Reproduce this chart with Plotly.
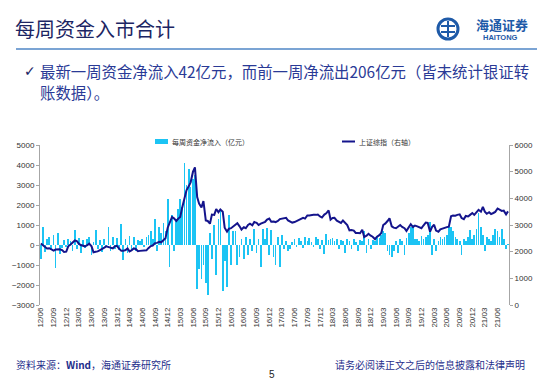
import pandas as pd
import plotly.graph_objects as go

# ---------------- data (semi-monthly readings) ----------------
flow_2012 = [-700, 900, -350, 300, 400, -250, 500, -1150, 600, -450, -150, 250, -100, 300]
flow_2013 = [200, -300, 750, -200, 350, -400, 250, -150, 300, 400, -500, 150,
             750, -200, 250, -350, 300, -100, 900, -300, 400, -200, 350, -250]
flow_2014 = [1050, -750, 300, -400, 450, -200, 400, -300, 250, 200, 300, -100,
             400, 500, 700, 300, 1300, -300, 900, 600, 1100, 700, 2300, -1100]
flow_2015 = [1500, -300, 1300, 1800, 2300, 1900, 4100, 3000, 3800, 2900, 3300, 3500,
             -2200, -1200, -1700, -1000, -1900, -2500, 600, -700, 1000, -1500, 1300, 1800]
flow_2016 = [-2300, -800, -2100, 1500, -1000, 700, 700, -1000, -600, 300, -700, 400,
             -500, 300, -300, 800, -400, 300, -1100, 800, 300, 850, -500, 750]
flow_2017 = [-600, -1000, 400, -1100, 500, -200, 200, -300, -200, 150, 300, -100,
             350, 200, -150, 400, 200, 350, 150, -100, 400, 300, -200, 250]
flow_2018 = [-450, 550, 250, 300, 350, 200, 300, -200, 250, 200, -400, 300,
             200, -200, 300, 150, -300, 250, 200, 700, -400, 300, -200, 250]
flow_2019 = [200, 400, 350, 500, 700, 600, -300, -500, -600, -300, 200, -400,
             300, 200, -500, 350, 600, 900, 1000, 300, 300, 200, 450, 300]
flow_2020 = [400, 500, 1150, -500, 300, -300, 200, 400, 300, 400, 500, 900,
             900, 700, 400, 300, 200, -500, 300, 200, 400, 750, 300, 500]
flow_2021 = [800, 1600, 900, 500, -300, 400, 300, 200, 500, 800, 700, 400, 800, 300, -206, 42]

sse_2012 = [2310, 2240, 2170, 2120, 2130, 2100, 2040, 2080, 2090, 2090, 2060, 1990, 2000, 2200]
sse_2013 = [2270, 2330, 2420, 2400, 2300, 2250, 2220, 2200, 2240, 2300, 2200, 1980,
            2000, 2010, 2060, 2090, 2150, 2200, 2180, 2150, 2120, 2200, 2220, 2120]
sse_2014 = [2030, 2030, 2060, 2120, 2010, 2050, 2120, 2100, 2020, 2030, 2030, 2050,
            2050, 2130, 2210, 2230, 2320, 2330, 2370, 2350, 2430, 2500, 2900, 3100]
sse_2015 = [3300, 3250, 3150, 3240, 3300, 3650, 3960, 4300, 4450, 4600, 5000, 5160,
            4050, 3800, 3660, 3900, 3170, 3150, 3050, 3390, 3380, 3600, 3480, 3580]
sse_2016 = [3500, 2900, 2750, 2860, 2880, 2950, 3010, 3070, 2950, 2830, 2920, 2880,
            3000, 3050, 2990, 3110, 3080, 3000, 3050, 3080, 3120, 3200, 3240, 3120]
sse_2017 = [3130, 3110, 3150, 3220, 3240, 3240, 3270, 3170, 3110, 3090, 3110, 3140,
            3200, 3230, 3270, 3240, 3360, 3360, 3380, 3380, 3380, 3390, 3320, 3280]
sse_2018 = [3390, 3440, 3550, 3200, 3260, 3270, 3160, 3110, 3080, 3170, 3080, 3000,
            2800, 2810, 2790, 2700, 2700, 2690, 2820, 2550, 2600, 2670, 2600, 2560]
sse_2019 = [2470, 2560, 2620, 2700, 3000, 3050, 3150, 3250, 2950, 2900, 2880, 2950,
            3000, 2930, 2880, 2780, 2930, 3030, 2920, 2980, 2950, 2920, 2880, 2980]
sse_2020 = [3090, 3080, 2750, 2920, 3010, 2790, 2750, 2840, 2860, 2870, 2920, 2940,
            3330, 3360, 3350, 3380, 3400, 3260, 3220, 3340, 3320, 3380, 3450, 3380]
sse_2021 = [3500, 3570, 3500, 3680, 3500, 3420, 3480, 3410, 3450, 3490, 3620, 3580,
            3530, 3540, 3400, 3510]

tick_labels = ["12/06", "12/09", "12/12", "13/03", "13/06", "13/09", "13/12", "14/03", "14/06",
               "14/09", "14/12", "15/03", "15/06", "15/09", "15/12", "16/03", "16/06", "16/09",
               "16/12", "17/03", "17/06", "17/09", "17/12", "18/03", "18/06", "18/09", "18/12",
               "19/03", "19/06", "19/09", "19/12", "20/03", "20/06", "20/09", "20/12", "21/03",
               "21/06"]

flows = (flow_2012 + flow_2013 + flow_2014 + flow_2015 + flow_2016 + flow_2017 +
         flow_2018 + flow_2019 + flow_2020 + flow_2021)
sse = (sse_2012 + sse_2013 + sse_2014 + sse_2015 + sse_2016 + sse_2017 +
       sse_2018 + sse_2019 + sse_2020 + sse_2021)
dates = pd.date_range("2012-06-01", "2021-08-15", freq="SMS")
n = min(len(dates), len(flows), len(sse))
dates, flows, sse = dates[:n], flows[:n], sse[:n]

tick_vals = [pd.Timestamp("20" + t[:2] + "-" + t[3:] + "-01") for t in tick_labels]

# ---------------- layout helpers ----------------
L, R, T, B = 40, 509, 145, 305
def X(px):
    return (px - L) / (R - L)
def Y(py):
    return (B - py) / (B - T)

BAR_C = "#1CC4F4"
LINE_C = "#14148C"
CJK = "Noto Sans CJK SC"

fig = go.Figure()
fig.add_trace(go.Bar(x=dates, y=flows, marker_color=BAR_C, marker_line_width=0,
                     width=5 * 24 * 3600 * 1000, name="每周资金净流入（亿元）"))
fig.add_trace(go.Scatter(x=dates, y=sse, mode="lines", yaxis="y2",
                         line=dict(color=LINE_C, width=2), name="上证综指（右轴）"))

axis_font = dict(family="Liberation Sans, Arial", size=8, color="#333333")
fig.update_layout(
    width=550, height=380,
    margin=dict(l=L, r=550 - R, t=T, b=380 - B),
    paper_bgcolor="white", plot_bgcolor="white",
    showlegend=False, bargap=0,
    xaxis=dict(type="date", range=["2012-05-26", "2021-08-22"], tickvals=tick_vals,
               ticktext=tick_labels, tickangle=-90, tickfont=axis_font, showgrid=False,
               zeroline=False, showline=False, ticks=""),
    yaxis=dict(range=[-3000, 5000], dtick=1000, tickfont=axis_font, showgrid=False,
               zeroline=False, showline=True, linecolor="#A6A6A6", linewidth=1,
               ticks="outside", ticklen=3, tickcolor="#A6A6A6"),
    yaxis2=dict(range=[0, 6000], dtick=1000, overlaying="y", side="right", tickfont=axis_font,
                showgrid=False, zeroline=False, showline=True, linecolor="#A6A6A6",
                linewidth=1, ticks="outside", ticklen=3, tickcolor="#A6A6A6"),
)

ann = []
def text(px, py, s, size, color, xanchor="left", family=CJK, bold=False):
    if bold:
        s = "<b>" + s + "</b>"
    ann.append(dict(x=X(px), y=Y(py), xref="paper", yref="paper", text=s, showarrow=False,
                    xanchor=xanchor, yanchor="middle",
                    font=dict(family=family, size=size, color=color)))

# title and header
text(13, 28, "每周资金入市合计", 20, "#1C2563")
text(22, 71, "✓", 14, "#1C2563", family="DejaVu Sans")
text(38, 71, "最新一周资金净流入42亿元，而前一周净流出206亿元（皆未统计银证转", 15.4, "#2A3A96")
text(38, 92, "账数据）。", 15.4, "#2A3A96")
text(502, 24.5, "海通证券", 13, "#1E5AA8", xanchor="center", bold=True)
text(500, 37.5, "HAITONG", 7.5, "#1E5AA8", xanchor="center", family="Liberation Sans", bold=True)

# legend
text(170, 141.5, "每周资金净流入（亿元）", 7, "#333333")
text(357, 141.5, "上证综指（右轴）", 7, "#333333")

# footer
text(14, 364, "资料来源：<b>Wind</b>，海通证券研究所", 10, "#1F2F8C")
text(527, 364, "请务必阅读正文之后的信息披露和法律声明", 10, "#1F2F8C", xanchor="right")
text(272, 374, "5", 10, "#222222", xanchor="center", family="Liberation Sans")

shapes = [
    dict(type="line", xref="paper", yref="paper", x0=X(16), x1=X(537), y0=Y(49), y1=Y(49),
         line=dict(color="#4F86C6", width=1.5)),
    dict(type="rect", xref="paper", yref="paper", x0=X(155), x1=X(168), y0=Y(144), y1=Y(139),
         fillcolor=BAR_C, line=dict(width=0)),
    dict(type="line", xref="paper", yref="paper", x0=X(342), x1=X(355), y0=Y(141.5), y1=Y(141.5),
         line=dict(color=LINE_C, width=2)),
    # logo
    dict(type="circle", xref="paper", yref="paper", x0=X(438), x1=X(458), y0=Y(39), y1=Y(19),
         line=dict(color="#1E5AA8", width=3)),
    dict(type="line", xref="paper", yref="paper", x0=X(441), x1=X(455), y0=Y(26), y1=Y(26),
         line=dict(color="#1E5AA8", width=2)),
    dict(type="line", xref="paper", yref="paper", x0=X(441), x1=X(455), y0=Y(32), y1=Y(32),
         line=dict(color="#1E5AA8", width=2)),
    dict(type="line", xref="paper", yref="paper", x0=X(448), x1=X(448), y0=Y(21), y1=Y(37),
         line=dict(color="#1E5AA8", width=2)),
]
fig.update_layout(annotations=ann, shapes=shapes)

fig.write_html("out.html", config={"displayModeBar": False},
               post_script="document.body.style.margin='0';document.body.style.overflow='hidden';")
